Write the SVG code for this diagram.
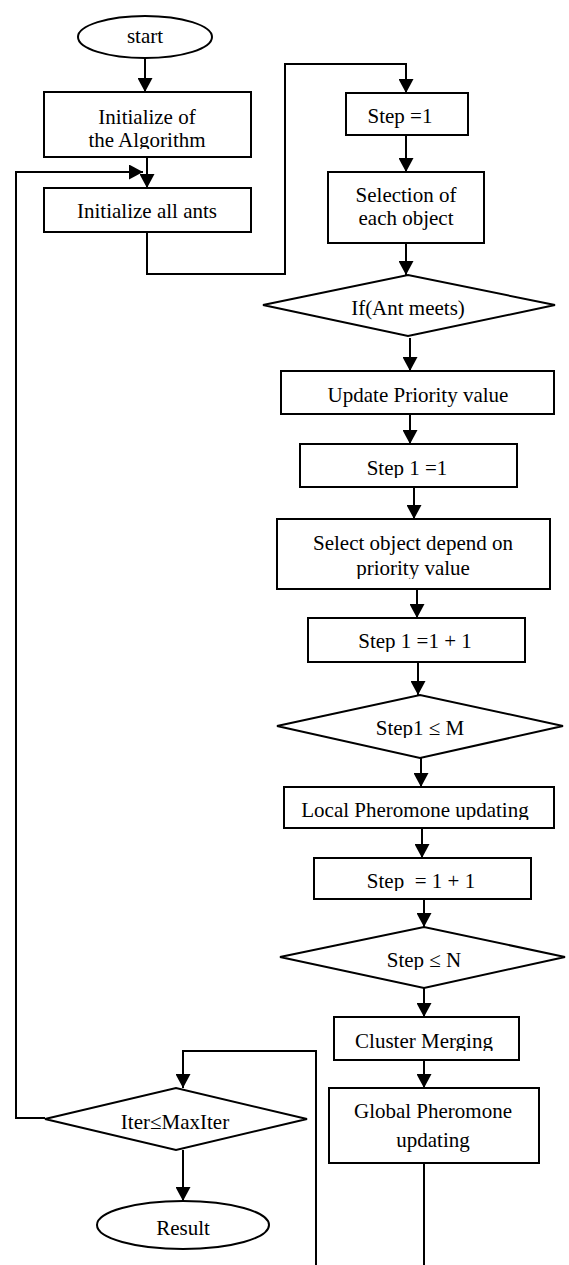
<svg xmlns="http://www.w3.org/2000/svg" width="569" height="1265" viewBox="0 0 569 1265">
<style>
.s{fill:#fff;stroke:#000;stroke-width:2}
.t{font-family:"Liberation Serif","Times New Roman",serif;font-size:21px;fill:#000;text-anchor:middle}
.c{fill:none;stroke:#000;stroke-width:2}
</style>
<defs>
<marker id="ah" viewBox="0 0 14 15" refX="14" refY="7.5" markerWidth="14" markerHeight="15" markerUnits="userSpaceOnUse" orient="auto">
<path d="M0,0 L14,7.5 L0,15 z" fill="#000"/>
</marker>
<clipPath id="k1"><rect x="44" y="92" width="207" height="57"/></clipPath>
<clipPath id="k2"><rect x="300" y="444" width="217" height="34"/></clipPath>
<clipPath id="k3"><rect x="277" y="519" width="273" height="60"/></clipPath>
<clipPath id="k4"><rect x="308" y="618" width="217" height="34"/></clipPath>
<clipPath id="k5"><rect x="277" y="695" width="286" height="43"/></clipPath>
<clipPath id="k6"><rect x="284" y="787" width="270" height="33"/></clipPath>
<clipPath id="k7"><rect x="314" y="858" width="217" height="33"/></clipPath>
<clipPath id="k8"><rect x="280" y="927" width="285" height="43"/></clipPath>
<clipPath id="k9"><rect x="334" y="1017" width="185" height="34"/></clipPath>
</defs>
<g id="connectors">
<path class="c" d="M145,58 V92" marker-end="url(#ah)"/>
<path class="c" d="M147,157 V188" marker-end="url(#ah)"/>
<path class="c" d="M45,1118 H16 V172 H143" marker-end="url(#ah)"/>
<path class="c" d="M147,232 V274 H285 V64 H406 V93" marker-end="url(#ah)"/>
<path class="c" d="M406,135 V172" marker-end="url(#ah)"/>
<path class="c" d="M406,243 V275" marker-end="url(#ah)"/>
<path class="c" d="M410,338 V371" marker-end="url(#ah)"/>
<path class="c" d="M410,414 V444" marker-end="url(#ah)"/>
<path class="c" d="M414,487 V519" marker-end="url(#ah)"/>
<path class="c" d="M417,589 V618" marker-end="url(#ah)"/>
<path class="c" d="M418,662 V695" marker-end="url(#ah)"/>
<path class="c" d="M421,758 V787" marker-end="url(#ah)"/>
<path class="c" d="M422,828 V858" marker-end="url(#ah)"/>
<path class="c" d="M424,899 V927" marker-end="url(#ah)"/>
<path class="c" d="M424,988 V1017" marker-end="url(#ah)"/>
<path class="c" d="M424,1060 V1088" marker-end="url(#ah)"/>
<path class="c" d="M424,1163 V1265"/>
<path class="c" d="M316,1265 V1051 H183 V1088" marker-end="url(#ah)"/>
<path class="c" d="M183,1150 V1201" marker-end="url(#ah)"/>
</g>
<g id="start">
<ellipse class="s" cx="145" cy="37" rx="67" ry="21"/>
<text class="t" x="145" y="43">start</text>
</g>
<g id="init-algorithm">
<rect class="s" x="44" y="92" width="207" height="65"/>
<g clip-path="url(#k1)">
<text class="t" x="147" y="124">Initialize of</text>
<text class="t" x="147" y="147">the Algorithm</text>
</g>
</g>
<g id="init-ants">
<rect class="s" x="44" y="188" width="207" height="44"/>
<text class="t" x="147" y="218">Initialize all ants</text>
</g>
<g id="step1">
<rect class="s" x="346" y="93" width="122" height="42"/>
<text class="t" x="400" y="123">Step =1</text>
</g>
<g id="selection">
<rect class="s" x="328" y="172" width="156" height="71"/>
<text class="t" x="406" y="202">Selection of</text>
<text class="t" x="406" y="225">each object</text>
</g>
<g id="if-ant">
<polygon class="s" points="263,305 408,275 555,305 408,336"/>
<text class="t" x="408" y="315">If(Ant meets)</text>
</g>
<g id="update-priority">
<rect class="s" x="281" y="371" width="273" height="43"/>
<text class="t" x="418" y="402">Update Priority value</text>
</g>
<g id="step1-eq1">
<rect class="s" x="300" y="444" width="217" height="43"/>
<text class="t" x="407" y="475" clip-path="url(#k2)">Step 1 =1</text>
</g>
<g id="select-object">
<rect class="s" x="277" y="519" width="273" height="70"/>
<g clip-path="url(#k3)">
<text class="t" x="413" y="550">Select object depend on</text>
<text class="t" x="413" y="575">priority value</text>
</g>
</g>
<g id="step1-inc">
<rect class="s" x="308" y="618" width="217" height="44"/>
<text class="t" x="415" y="648" clip-path="url(#k4)">Step 1 =1 + 1</text>
</g>
<g id="step1-le-m">
<polygon class="s" points="277,726 420,695 563,726 420,758"/>
<text class="t" x="420" y="735" clip-path="url(#k5)">Step1 ≤ M</text>
</g>
<g id="local-pheromone">
<rect class="s" x="284" y="787" width="270" height="41"/>
<text class="t" x="415" y="817" clip-path="url(#k6)">Local Pheromone updating</text>
</g>
<g id="step-inc">
<rect class="s" x="314" y="858" width="217" height="41"/>
<text class="t" x="421" y="888" clip-path="url(#k7)" xml:space="preserve">Step  = 1 + 1</text>
</g>
<g id="step-le-n">
<polygon class="s" points="280,957 424,927 565,957 424,988"/>
<text class="t" x="424" y="967" clip-path="url(#k8)">Step ≤ N</text>
</g>
<g id="cluster-merging">
<rect class="s" x="334" y="1017" width="185" height="43"/>
<text class="t" x="424" y="1048" clip-path="url(#k9)">Cluster Merging</text>
</g>
<g id="global-pheromone">
<rect class="s" x="329" y="1088" width="210" height="75"/>
<text class="t" x="433" y="1118">Global Pheromone</text>
<text class="t" x="433" y="1147">updating</text>
</g>
<g id="iter-check">
<polygon class="s" points="45,1119 176,1088 307,1119 176,1150"/>
<text class="t" x="175" y="1129">Iter≤MaxIter</text>
</g>
<g id="result">
<ellipse class="s" cx="183" cy="1225" rx="86" ry="24"/>
<text class="t" x="183" y="1235">Result</text>
</g>
</svg>
